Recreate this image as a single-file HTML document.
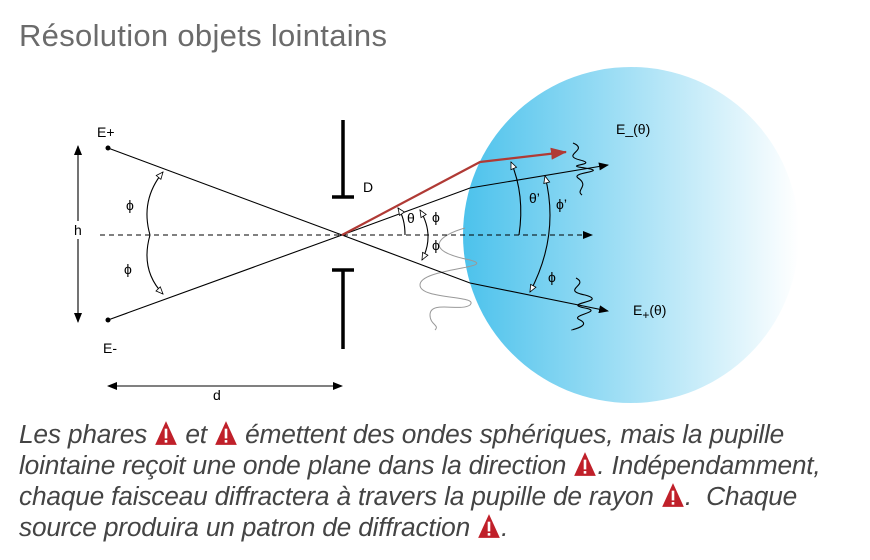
<!DOCTYPE html>
<html><head><meta charset="utf-8">
<style>
body{margin:0;width:870px;height:560px;background:#fff;overflow:hidden;font-family:"Liberation Sans",sans-serif}
#title{position:absolute;left:19px;top:18px;font-size:31px;letter-spacing:0.3px;color:#6b6b6b}
#para{position:absolute;left:19px;top:419px;width:860px;font-size:26.3px;line-height:31px;font-style:italic;color:#444;letter-spacing:-0.2px;white-space:nowrap}
.w{display:inline-block;width:24px;height:26px;vertical-align:-3px}
</style></head><body>
<div id="title">Résolution objets lointains</div>
<svg width="870" height="560" style="position:absolute;left:0;top:0">
<defs>
<linearGradient id="g" x1="0" x2="1"><stop offset="0" stop-color="#4cc2ec"/><stop offset="1" stop-color="#ffffff"/></linearGradient>
<marker id="ah" markerWidth="10" markerHeight="8" refX="9" refY="4" orient="auto" markerUnits="userSpaceOnUse"><path d="M0,0L10,4L0,8z" fill="#000"/></marker>
<marker id="ahs" markerWidth="10" markerHeight="8" refX="9" refY="4" orient="auto-start-reverse" markerUnits="userSpaceOnUse"><path d="M0,0L10,4L0,8z" fill="#000"/></marker>
<marker id="ar" markerWidth="16" markerHeight="12" refX="15" refY="6" orient="auto" markerUnits="userSpaceOnUse"><path d="M0,0L16,6L0,12z" fill="#b03a35"/></marker>
<marker id="ao" markerWidth="9" markerHeight="8" refX="8" refY="4" orient="auto-start-reverse" markerUnits="userSpaceOnUse"><path d="M1,1L8,4L1,7z" fill="#fff" stroke="#000" stroke-width="0.8"/></marker>
</defs>
<circle cx="631" cy="235" r="168" fill="url(#g)"/>
<g fill="none" stroke="#999" stroke-width="1">
<path d="M465,228 C440,235 420,250 470,260 C500,268 420,268 420,285 C420,300 480,295 470,305 C460,312 430,300 430,315 C430,325 440,325 435,330"/>
</g>
<g stroke="#000" stroke-width="1.1" fill="none">
<polyline points="108,148 342,235 470,283 608,311" marker-end="url(#ah)"/>
<polyline points="108,320 342,235 470,188 608,165" marker-end="url(#ah)"/>
<line x1="100" y1="235" x2="592" y2="235" stroke-dasharray="5,4" marker-end="url(#ah)"/>
<line x1="78" y1="146" x2="78" y2="322" marker-start="url(#ahs)" marker-end="url(#ahs)"/>
<line x1="108" y1="386" x2="342" y2="386" marker-start="url(#ahs)" marker-end="url(#ahs)"/>
<path d="M150,235 Q140,200 163,172" marker-end="url(#ao)"/>
<path d="M150,235 Q140,270 163,294" marker-end="url(#ao)"/>
<path d="M405,235 Q405,218 398,208" marker-end="url(#ao)"/>
<path d="M422,260 Q435,235 420,210" marker-start="url(#ao)" marker-end="url(#ao)"/>
<path d="M519,235 Q525,195 511,162" marker-end="url(#ao)"/>
<path d="M530,292 Q560,235 545,176" marker-start="url(#ao)" marker-end="url(#ao)"/>
<path d="M573,143 C590,150 560,155 580,160 C600,165 560,165 585,168 C610,172 570,172 578,178 C590,186 575,190 582,195"/>
<path d="M576,278 C590,285 560,290 585,295 C610,302 560,303 585,308 C605,312 568,315 580,320 C592,326 570,330 572,330"/>
</g>
<polyline points="342,235 480,162 566,152" fill="none" stroke="#b03a35" stroke-width="2.2" marker-end="url(#ar)"/>
<g stroke="#000" stroke-width="3.5">
<line x1="343" y1="120" x2="343" y2="198"/><line x1="332" y1="197" x2="354" y2="197"/>
<line x1="343" y1="269" x2="343" y2="349"/><line x1="332" y1="270" x2="354" y2="270"/>
</g>
<circle cx="108" cy="148" r="2.5" fill="#000"/>
<circle cx="108" cy="320" r="2.5" fill="#000"/>
<rect x="71" y="221" width="14" height="18" fill="#fff"/>
<g font-family="Liberation Sans, sans-serif" font-size="14" fill="#000">
<text x="97" y="137">E+</text>
<text x="103" y="353">E-</text>
<text x="74" y="235">h</text>
<text x="213" y="400">d</text>
<text x="126" y="210">ϕ</text>
<text x="124" y="274">ϕ</text>
<text x="363" y="192">D</text>
<text x="407" y="223">θ</text>
<text x="432" y="222">ϕ</text>
<text x="432" y="250">ϕ</text>
<text x="529" y="203">θ’</text>
<text x="556" y="209">ϕ’</text>
<text x="548" y="282">ϕ</text>
<text x="616" y="134">E_(θ)</text>
<text x="633" y="315">E<tspan font-size="12" dy="4">+</tspan><tspan dy="-4">(θ)</tspan></text>
</g>
</svg>
<div id="para">Les phares <svg class="w" viewBox="0 0 22 24"><path d="M11,1L21,23H1z" fill="#c0202a"/><rect x="9.8" y="8" width="2.4" height="9" fill="#fff"/><rect x="9.8" y="18.5" width="2.4" height="2.4" fill="#fff"/></svg> et <svg class="w" viewBox="0 0 22 24"><path d="M11,1L21,23H1z" fill="#c0202a"/><rect x="9.8" y="8" width="2.4" height="9" fill="#fff"/><rect x="9.8" y="18.5" width="2.4" height="2.4" fill="#fff"/></svg> émettent des ondes sphériques, mais la pupille<br>lointaine reçoit une onde plane dans la direction <svg class="w" viewBox="0 0 22 24"><path d="M11,1L21,23H1z" fill="#c0202a"/><rect x="9.8" y="8" width="2.4" height="9" fill="#fff"/><rect x="9.8" y="18.5" width="2.4" height="2.4" fill="#fff"/></svg>. Indépendamment,<br>chaque faisceau diffractera à travers la pupille de rayon <svg class="w" viewBox="0 0 22 24"><path d="M11,1L21,23H1z" fill="#c0202a"/><rect x="9.8" y="8" width="2.4" height="9" fill="#fff"/><rect x="9.8" y="18.5" width="2.4" height="2.4" fill="#fff"/></svg>.&nbsp; Chaque<br>source produira un patron de diffraction <svg class="w" viewBox="0 0 22 24"><path d="M11,1L21,23H1z" fill="#c0202a"/><rect x="9.8" y="8" width="2.4" height="9" fill="#fff"/><rect x="9.8" y="18.5" width="2.4" height="2.4" fill="#fff"/></svg>.</div>
</body></html>
